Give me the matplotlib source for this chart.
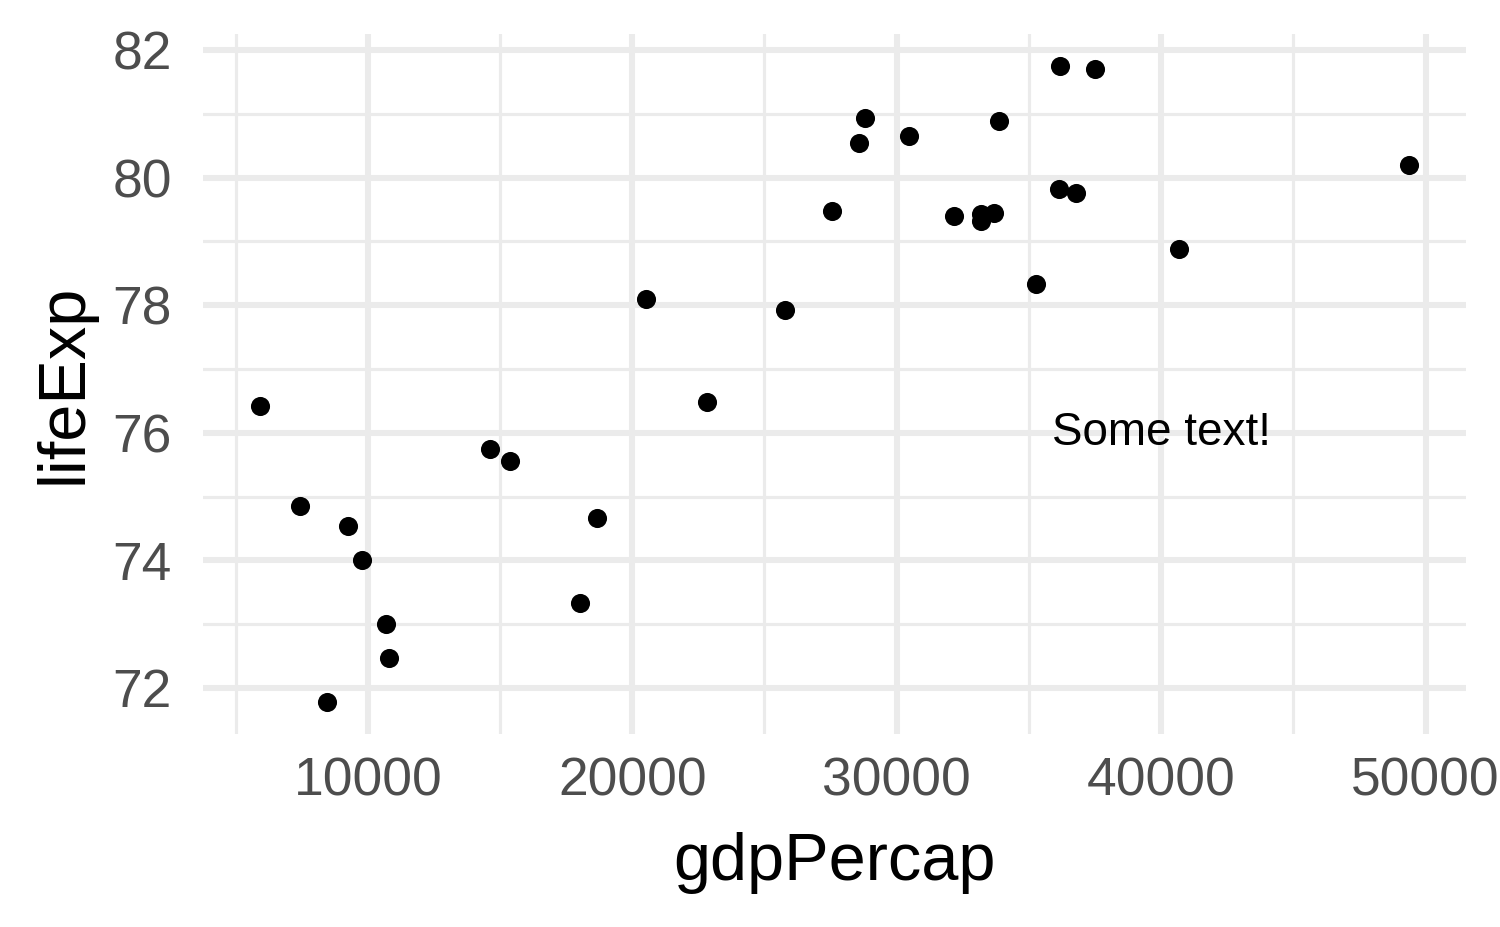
import matplotlib
matplotlib.use("Agg")
import matplotlib.pyplot as plt
import numpy as np

countries = ["Albania", "Austria", "Belgium", "Bosnia and Herzegovina", "Bulgaria",
             "Croatia", "Czech Republic", "Denmark", "Finland", "France", "Germany",
             "Greece", "Hungary", "Iceland", "Ireland", "Italy", "Montenegro",
             "Netherlands", "Norway", "Poland", "Portugal", "Romania", "Serbia",
             "Slovak Republic", "Slovenia", "Spain", "Sweden", "Switzerland",
             "Turkey", "United Kingdom"]
gdpPercap = [5937.03, 36126.49, 33692.61, 7446.30, 10680.79, 14619.22, 22833.31,
             35278.42, 33207.08, 30470.02, 32170.37, 27538.41, 18008.94, 36180.79,
             40675.00, 28569.72, 9253.90, 36797.93, 49357.19, 15389.92, 20509.65,
             10808.48, 9786.53, 18678.31, 25768.26, 28821.06, 33859.75, 37506.42,
             8458.26, 33203.26]
lifeExp = [76.423, 79.829, 79.441, 74.852, 73.005, 75.748, 76.486, 78.332, 79.313,
           80.657, 79.406, 79.483, 73.338, 81.757, 78.885, 80.546, 74.543, 79.762,
           80.196, 75.563, 78.098, 72.476, 74.002, 74.663, 77.926, 80.941, 80.884,
           81.701, 71.777, 79.425]
x_ticks = [10000, 20000, 30000, 40000, 50000]
y_ticks = [72, 74, 76, 78, 80, 82]
annot_text = "Some text!"
annot_x, annot_y = 40000, 76

plt.rcParams['font.family'] = ['Liberation Sans', 'DejaVu Sans']

fig = plt.figure(figsize=(5, 3.09), dpi=300)
ax = fig.add_axes([0.1353, 0.2082, 0.9773 - 0.1353, 0.9636 - 0.2082])

xr = max(gdpPercap) - min(gdpPercap)
yr = max(lifeExp) - min(lifeExp)
ax.set_xlim(min(gdpPercap) - 0.05 * xr, max(gdpPercap) + 0.05 * xr)
ax.set_ylim(min(lifeExp) - 0.05 * yr, max(lifeExp) + 0.05 * yr)

grid_col = "#EBEBEB"
ax.set_xticks(x_ticks)
ax.set_yticks(y_ticks)
ax.set_xticks([5000, 15000, 25000, 35000, 45000], minor=True)
ax.set_yticks([73, 75, 77, 79, 81], minor=True)
ax.grid(True, which='major', color=grid_col, linewidth=1.45)
ax.grid(True, which='minor', color=grid_col, linewidth=0.75)
ax.set_axisbelow(True)
for s in ax.spines.values():
    s.set_visible(False)
ax.tick_params(which='both', length=0)
ax.tick_params(axis='both', labelsize=12.8, labelcolor='#4D4D4D')
ax.tick_params(axis='y', pad=7.5)
ax.tick_params(axis='x', pad=5.5)

ax.scatter(gdpPercap, lifeExp, s=21, color='black', linewidths=0, zorder=3)
ax.text(annot_x, annot_y, annot_text, ha='center', va='center', fontsize=11, color='black',
        transform=ax.transData)

ax.set_xlabel("gdpPercap", fontsize=16, labelpad=6)
ax.set_ylabel("lifeExp", fontsize=16, labelpad=4)

fig.savefig("out.png", dpi=300, facecolor='white')
